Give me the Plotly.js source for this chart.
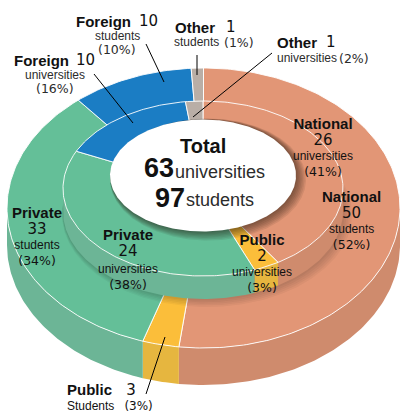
<!DOCTYPE html>
<html><head><meta charset="utf-8">
<script src="https://cdn.plot.ly/plotly-3.0.1.min.js"></script>
<style>html,body{margin:0;padding:0;background:#fff}#c{width:401px;height:414px}</style>
</head><body><div id="c"></div>
<script>
// ---- data ----
const categories = ['National','Public','Private','Foreign','Other'];
const studentValues = [50,3,33,10,1];
const universityValues = [26,2,24,10,1];
const studentPct = [52,3,34,10,1];
const universityPct = [41,3,38,16,2];
const totalUniversities = 63;
const totalStudents = 97;

// ---- styling / geometry ----
const topColors = ['#E29676','#FBBE3A','#64BF98','#1B7DC4','#B9AEA6'];
const wallColors = ['#CF8B6D','#E6B63F','#6CB596','#1B7DC4','#B9AEA6'];
const outer = {cx:203.5, cy:208, rx:196.5, ry:140, h:37};
const inner = {cx:203, cy:188.5, rx:140, ry:87.5, h:23};
const hole  = {cx:203, cy:175.5, rx:93, ry:56};

const pt = (g,deg,dy=0)=>{const a=deg*Math.PI/180;return [g.cx+g.rx*Math.sin(a), g.cy-g.ry*Math.cos(a)+dy];};
function arc(g,a,b,dy=0){const p=[];const n=Math.max(2,Math.ceil(Math.abs(b-a)));for(let i=0;i<=n;i++)p.push(pt(g,a+(b-a)*i/n,dy));return p;}
function poly(points,color,lw){return {type:'scatter',mode:'lines',x:points.map(p=>p[0]),y:points.map(p=>p[1]),fill:'toself',fillcolor:color,
  line:{color:lw?'#ffffff':color,width:lw||0},hoverinfo:'skip',showlegend:false};}
function angles(vals){const s=vals.reduce((a,b)=>a+b,0);let c=0;return vals.map(v=>{const a=c;c+=v/s*360;return [a,c];});}

function walls(g,vals){const out=[];angles(vals).forEach(([a,b],i)=>{const s=Math.max(a,90),e=Math.min(b,270);
  if(e>s){out.push(poly(arc(g,s,e).concat(arc(g,e,s,g.h)),wallColors[i]));}});return out;}
function tops(g,vals){return angles(vals).map(([a,b],i)=>poly([[g.cx,g.cy]].concat(arc(g,a,b)).concat([[g.cx,g.cy]]),topColors[i],0.9));}
function shadow(g,dx,dy,grow,layers,alpha){const out=[];for(let k=layers;k>=1;k--){const f=k/layers;
  const e={cx:g.cx+dx*f,cy:g.cy+dy*f,rx:g.rx+grow*f,ry:g.ry+grow*f};
  out.push(poly(arc(e,0,360),'rgba(30,20,15,'+alpha+')'));}return out;}

const traces=[].concat(
  walls(outer,studentPct),
  tops(outer,studentPct),
  shadow({cx:inner.cx,cy:inner.cy+inner.h,rx:inner.rx,ry:inner.ry},4,3,5,5,0.045),
  walls(inner,universityPct),
  tops(inner,universityPct),
  shadow(hole,5,4,5,7,0.09),
  [poly(arc(hole,0,360),'#ffffff')]
);

// ---- text ----
const sans='"Liberation Sans",Arial,sans-serif', wide='"DejaVu Sans",sans-serif';
const ink='#111111', soft='#2b2b2b';
const span=(fam,size,t)=>'<span style="font-size:'+size+'px;font-family:\''+fam+'\'">'+t+'</span>';
const B=(t,x,y,s=15,anchor='center')=>({text:'<b>'+t+'</b>',x,y,font:{family:sans,size:s,color:ink},xanchor:anchor});
const N=(t,x,y,s=15,anchor='center')=>({text:String(t),x,y,font:{family:wide,size:s,color:ink},xanchor:anchor});
const R=(t,x,y,s=12,anchor='center')=>({text:t,x,y,font:{family:sans,size:s,color:soft},xanchor:anchor});
const P=(t,x,y,s=12.5,anchor='center')=>({text:'('+t+'%)',x,y,font:{family:wide,size:s,color:soft},xanchor:anchor});
// four-line label held as one text; the base size sets the line spacing
const block=(cat,num,unit,pct,x,y,base)=>({
  text:span('Liberation Sans',15,'<b>'+cat+'</b>')+'<br>'+span('DejaVu Sans',15,num)+'<br>'+
       span('Liberation Sans',12,unit)+'<br>'+span('DejaVu Sans',12.5,'('+pct+'%)'),
  x,y,font:{family:sans,size:base,color:ink},xanchor:'center',align:'center'});
const nb='\u00A0';
const publicStudents={
  text:span('Liberation Sans',15,'<b>'+categories[1]+'</b>')+span('DejaVu Sans',15,nb+nb+nb+studentValues[1])+'<br>'+
       span('Liberation Sans',12,'Students'+nb+nb+nb)+span('DejaVu Sans',12,'('+studentPct[1]+'%)'),
  x:67,y:397,font:{family:sans,size:11.5,color:ink},xanchor:'left',align:'left'};
const labels=[
 B(categories[3],76,21,15,'left'),N(studentValues[3],139,21,15,'left'),R('students',117,36),P(studentPct[3],117,49),
 B(categories[3],14,60,15,'left'),N(universityValues[3],76,60,15,'left'),R('universities',55,75),P(universityPct[3],55,88),
 B(categories[4],175,27,15,'left'),N(studentValues[4],226,27,15,'left'),R('students',174,42,12,'left'),P(studentPct[4],224,42,12.5,'left'),
 B(categories[4],277,42,15,'left'),N(universityValues[4],326,42,15,'left'),R('universities',277,58,12,'left'),P(universityPct[4],339,58,12.5,'left'),
 B('Total',203,146,20),
 B(totalUniversities,144,168,27,'left'),R('universities',175,172,18,'left'),
 B(totalStudents,155,198,27,'left'),R('students',186,200,18,'left'),
 block(categories[0],universityValues[0],'universities',universityPct[0],323,147,12),
 block(categories[0],studentValues[0],'students',studentPct[0],351,220,12),
 block(categories[2],studentValues[2],'students',studentPct[2],37,235.5,12),
 block(categories[2],universityValues[2],'universities',universityPct[2],128,259,12.5),
 block(categories[1],universityValues[1],'universities',universityPct[1],262,263,12),
 publicStudents
];
const annotations=labels.map(l=>Object.assign({xref:'x',yref:'y',yanchor:'middle',showarrow:false,borderpad:0,borderwidth:0},l));

const leaders=[[146,44,164,82],[94,74,133,123],[197,55,197,75],[272,53,193,117],[165,337,146,394]];
const shapes=leaders.map(l=>({type:'line',xref:'x',yref:'y',x0:l[0],y0:l[1],x1:l[2],y1:l[3],line:{color:'#000',width:1},layer:'above'}));

Plotly.newPlot('c',traces,{
  width:401,height:414,margin:{l:0,r:0,t:0,b:0},paper_bgcolor:'#fff',plot_bgcolor:'#fff',showlegend:false,
  xaxis:{range:[0,401],visible:false,fixedrange:true},
  yaxis:{range:[414,0],visible:false,fixedrange:true},
  annotations,shapes
},{displayModeBar:false,staticPlot:true});
</script></body></html>
